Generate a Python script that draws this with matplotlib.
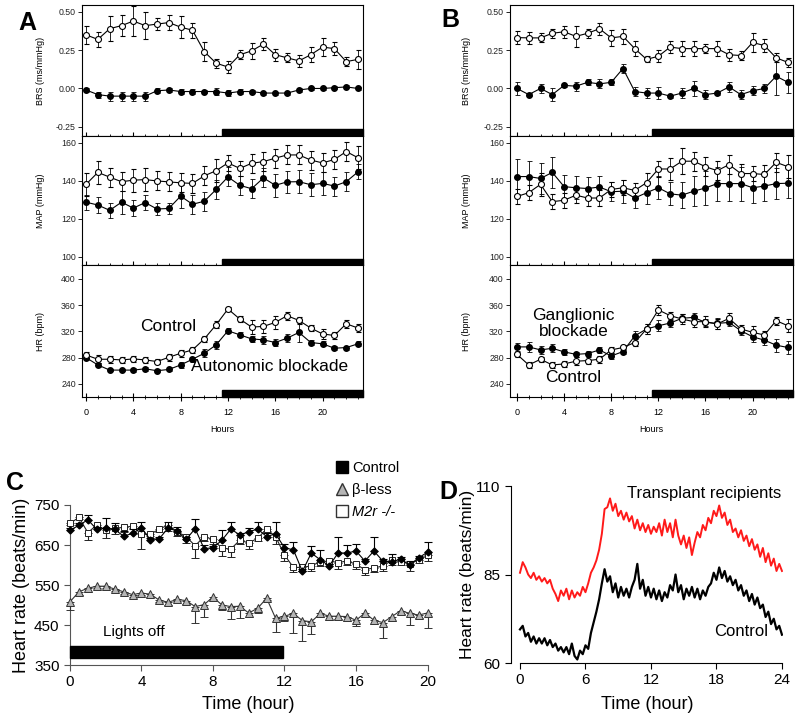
import numpy as np
import matplotlib.pyplot as plt
from matplotlib.patches import Rectangle
from matplotlib.lines import Line2D

plt.rcParams['font.family'] = ['Liberation Sans', 'DejaVu Sans']

hours = np.arange(24)

# ---------------- Panel A (autonomic blockade) ----------------
a_brs_ctl = [0.35, 0.32, 0.39, 0.41, 0.44, 0.41, 0.42, 0.43, 0.40, 0.38, 0.24, 0.165,
             0.14, 0.22, 0.245, 0.29, 0.22, 0.20, 0.18, 0.22, 0.27, 0.26, 0.175, 0.19]
a_brs_ctl_err = [0.06, 0.05, 0.08, 0.07, 0.10, 0.09, 0.04, 0.05, 0.07, 0.05, 0.06, 0.03,
                 0.04, 0.03, 0.05, 0.04, 0.04, 0.03, 0.04, 0.05, 0.06, 0.04, 0.03, 0.06]
a_brs_blk = [-0.01, -0.04, -0.05, -0.05, -0.05, -0.05, -0.015, -0.01, -0.02, -0.02, -0.02, -0.02,
             -0.03, -0.02, -0.02, -0.03, -0.03, -0.03, -0.01, 0.0, 0.0, 0.005, 0.01, 0.0]
a_brs_blk_err = [0.01, 0.02, 0.03, 0.03, 0.03, 0.03, 0.015, 0.01, 0.015, 0.015, 0.01, 0.02,
                 0.02, 0.015, 0.01, 0.01, 0.01, 0.01, 0.01, 0.01, 0.01, 0.01, 0.01, 0.01]

a_map_ctl = [138.2, 144.5, 142.0, 139.6, 140.4, 140.7, 140.0, 139.5, 139.0, 138.7, 142.7, 145.4,
             149.5, 146.6, 149.3, 150.2, 152.0, 153.7, 153.7, 151.0, 149.5, 151.3, 155.5, 152.2]
a_map_ctl_err = [6, 6, 5, 5, 6, 6, 5, 5, 5, 5, 5, 6, 4, 4, 5, 5, 5, 5, 5, 5, 5, 5, 5, 6]
a_map_blk = [128.8, 127.3, 124.5, 128.8, 125.7, 128.6, 125.2, 125.5, 132.0, 127.7, 129.3, 135.5,
             142.1, 137.7, 135.9, 141.6, 137.7, 139.5, 139.6, 138.0, 138.7, 137.3, 139.6, 144.8]
a_map_blk_err = [4, 4, 4, 6, 4, 4, 3, 3, 6, 5, 5, 5, 5, 5, 5, 5, 6, 6, 6, 6, 6, 5, 5, 4]

a_hr_ctl = [284, 277.5, 277.5, 276.5, 278, 276.5, 274, 280.5, 286.6, 291.7, 308.5, 330,
            354, 338.7, 326.5, 327.5, 333.6, 343.8, 336.6, 325, 316, 313.7, 331.5, 325]
a_hr_ctl_err = [4, 6, 5, 4, 4, 5, 4, 5, 5, 4, 5, 5, 3, 5, 10, 10, 10, 6, 5, 5, 8, 5, 6, 6]
a_hr_blk = [280, 268.8, 261, 261, 261, 263, 260, 262, 268.8, 277.5, 286.6, 299.4,
            320.8, 314.7, 308.5, 307, 303, 309.6, 318.3, 303, 301, 294.3, 295.3, 301]
a_hr_blk_err = [3, 3, 2, 2, 3, 3, 2, 3, 4, 4, 6, 6, 4, 4, 4, 6, 6, 6, 14, 4, 4, 3, 3, 4]

# ---------------- Panel B (ganglionic blockade) ----------------
b_brs_ctl = [0.332, 0.33, 0.33, 0.36, 0.37, 0.34, 0.36, 0.39, 0.33, 0.34, 0.26, 0.19,
             0.21, 0.27, 0.26, 0.26, 0.26, 0.26, 0.22, 0.215, 0.30, 0.28, 0.20, 0.17]
b_brs_ctl_err = [0.04, 0.04, 0.03, 0.03, 0.04, 0.07, 0.03, 0.04, 0.05, 0.05, 0.05, 0.02,
                 0.04, 0.04, 0.05, 0.05, 0.03, 0.05, 0.04, 0.03, 0.06, 0.04, 0.03, 0.03]
b_brs_blk = [0.0, -0.04, 0.0, -0.04, 0.02, 0.015, 0.04, 0.03, 0.04, 0.13, -0.02, -0.03,
             -0.03, -0.05, -0.03, 0.0, -0.04, -0.03, 0.01, -0.04, -0.015, 0.0, 0.08, 0.04]
b_brs_blk_err = [0.04, 0.01, 0.03, 0.04, 0.01, 0.03, 0.02, 0.03, 0.02, 0.03, 0.03, 0.03,
                 0.04, 0.01, 0.03, 0.05, 0.03, 0.01, 0.03, 0.03, 0.03, 0.03, 0.12, 0.07]

b_map_ctl = [131.8, 133.8, 138.2, 129.1, 129.8, 132.5, 131.0, 131.0, 135.5, 136.4, 135.0, 139.1,
             146.3, 146.3, 150.4, 150.4, 147.5, 145.4, 148.6, 143.9, 143.9, 143.4, 149.8, 147.5]
b_map_ctl_err = [4, 4, 6, 4, 4, 4, 4, 4, 4, 4, 4, 5, 4, 6, 7, 5, 5, 5, 5, 5, 4, 5, 5, 6]
b_map_blk = [142.3, 142.3, 141.3, 144.5, 137.0, 136.4, 136.0, 136.8, 134.3, 134.6, 131.0, 133.8,
             136.4, 133.2, 132.5, 134.6, 136.3, 138.6, 138.6, 138.6, 136.4, 137.3, 138.6, 138.8]
b_map_blk_err = [9, 8, 8, 8, 6, 6, 6, 6, 5, 6, 5, 6, 6, 6, 7, 8, 9, 9, 9, 9, 8, 8, 8, 8]

b_hr_ctl = [285, 268.8, 277.5, 268.8, 270.4, 274.5, 275.5, 277.5, 291.7, 295.4, 303, 323.6,
            352.6, 343.9, 338.8, 334.7, 334.7, 331.1, 339.8, 323.6, 318.5, 314.4, 336.2, 328.5]
b_hr_ctl_err = [4, 5, 4, 4, 4, 6, 5, 5, 4, 4, 6, 8, 8, 6, 8, 8, 8, 8, 8, 6, 10, 6, 6, 10]
b_hr_blk = [296.3, 296.3, 291.7, 294.2, 288.7, 285, 286.1, 291.7, 282.5, 289.2, 313.1, 323.6,
            328.5, 332.6, 339.8, 341.3, 333.5, 332.1, 333.5, 321, 311.7, 306.6, 298.9, 295.4]
b_hr_blk_err = [6, 8, 6, 6, 4, 4, 4, 4, 4, 4, 8, 8, 8, 6, 6, 6, 6, 8, 6, 6, 8, 8, 10, 10]

# ---------------- Panel C (every 0.5 h) ----------------
c_time = np.arange(0, 20.5, 0.5)
c_control = [687, 699, 713, 689, 692, 689, 672, 679, 693, 663, 666, 693, 684, 664, 691, 641,
             643, 662, 690, 675, 683, 690, 671, 678, 643, 638, 584, 630, 613, 598, 630, 630,
             635, 610, 635, 610, 608, 615, 600, 618, 632]
c_control_up = [5, 5, 12, 5, 25, 15, 12, 10, 15, 5, 5, 15, 10, 5, 25, 8, 5, 25, 18, 5, 10,
                18, 8, 30, 10, 20, 5, 18, 25, 5, 40, 20, 18, 5, 35, 5, 20, 5, 10, 5, 25]
c_beta = [508, 533, 542, 547, 547, 540, 533, 526, 530, 527, 512, 507, 514, 511, 496, 501,
          520, 500, 496, 497, 480, 492, 517, 467, 472, 479, 461, 458, 479, 472, 472, 471,
          462, 480, 462, 456, 471, 486, 479, 475, 480]
c_beta_dn = [20, 8, 10, 5, 5, 5, 5, 5, 5, 8, 5, 8, 5, 8, 40, 30, 5, 12, 30, 30, 10,
             12, 5, 35, 12, 50, 50, 30, 8, 10, 8, 10, 15, 10, 10, 38, 12, 8, 30, 8, 38]
c_m2r = [704, 719, 681, 700, 687, 692, 694, 697, 677, 677, 690, 700, 683, 671, 648, 671,
         664, 642, 640, 662, 655, 667, 690, 671, 625, 594, 594, 598, 608, 610, 606, 610,
         602, 588, 593, 597, 612, 608, 603, 612, 624]
c_m2r_dn = [5, 5, 18, 5, 20, 15, 12, 5, 38, 5, 8, 15, 10, 15, 30, 10, 12, 20, 20, 10, 15,
            8, 5, 18, 15, 12, 8, 12, 10, 8, 15, 10, 12, 12, 10, 12, 12, 8, 18, 8, 15]

# ---------------- Panel D (every 0.25 h) ----------------
d_time = np.arange(0, 24.25, 0.25)
d_transplant = [85.5, 88.5, 87.0, 85.0, 84.0, 85.5, 83.5, 84.5, 83.0, 84.0, 82.5, 83.5,
                81.0, 79.5, 77.5, 80.5, 79.0, 81.0, 78.0, 80.5, 78.5, 80.0, 79.0, 81.5,
                80.0, 82.5, 85.5, 87.0, 89.0, 92.0, 96.5, 103.5, 104.0, 106.5, 103.0, 105.0,
                101.5, 103.0, 100.5, 102.5, 100.0, 101.5, 98.0, 100.5, 97.5, 99.5, 97.0, 99.0,
                96.5, 98.5, 97.0, 99.5, 96.0, 100.5, 97.0, 99.5, 95.5, 100.5, 96.0, 93.5,
                96.0, 92.5, 95.5, 90.5, 94.0, 97.0, 95.5, 99.0, 97.5, 101.0, 99.5, 103.0,
                101.5, 104.5, 101.0, 102.5, 99.0, 100.5, 97.0, 98.0, 95.5, 97.5, 94.5, 96.0,
                93.0, 95.0, 92.0, 93.5, 90.0, 92.5, 88.5, 91.0, 87.5, 89.5, 86.0, 88.0, 86.0]
d_control = [69.5, 70.5, 67.5, 68.5, 66.0, 67.5, 65.5, 67.0, 65.5, 67.0, 65.0, 66.5,
             64.5, 65.5, 63.5, 64.5, 63.0, 64.5, 62.5, 65.5, 62.0, 61.0, 63.5, 62.5,
             65.0, 64.0, 68.5, 71.5, 74.5, 78.0, 82.5, 86.5, 83.0, 84.5, 80.0, 82.5,
             78.5, 81.5, 79.0, 81.0, 78.5, 81.5, 83.5, 88.0, 81.0, 83.5, 79.0, 81.5,
             78.5, 81.0, 78.0, 80.5, 77.5, 80.0, 78.5, 82.0, 80.5, 85.0, 80.0, 82.0,
             78.0, 81.0, 79.0, 81.5, 78.5, 81.0, 78.0, 80.5, 79.0, 81.5, 82.5, 85.5,
             83.5, 87.0, 84.0, 86.0, 83.0, 84.5, 82.0, 83.5, 80.5, 82.0, 79.0, 80.5,
             77.5, 79.5, 76.5, 78.5, 75.5, 76.5, 73.0, 74.5, 71.0, 72.5, 69.5, 70.5, 68.0]


fig = plt.figure(figsize=(7.97, 7.16), dpi=100)

rows = [(0.8101, 0.1830), (0.6299, 0.1802), (0.4455, 0.1844)]
row_specs = [
    ('BRS (ms/mmHg)', (-0.31, 0.545), [-0.25, 0.0, 0.25, 0.50], '{:.2f}'),
    ('MAP (mmHg)', (95.7, 163.7), [100, 120, 140, 160], '{:.0f}'),
    ('HR (bpm)', (220, 421), [240, 280, 320, 360, 400], '{:.0f}'),
]


def stack(left, width, xlim, series, lab_x):
    axes = []
    for i, ((bot, h), (ylab, ylim, yt, fmt)) in enumerate(zip(rows, row_specs)):
        ax = fig.add_axes([left, bot, width, h])
        ctl, ctl_err, blk, blk_err = series[i]
        ax.errorbar(hours, blk, yerr=blk_err, fmt='-o', color='k', mfc='k', mec='k',
                    ms=4, lw=0.8, elinewidth=0.6, capsize=1.8, capthick=0.6, zorder=3)
        ax.errorbar(hours, ctl, yerr=ctl_err, fmt='-o', color='k', mfc='white', mec='k',
                    ms=4.3, mew=0.8, lw=0.8, elinewidth=0.6, capsize=1.8, capthick=0.6, zorder=4)
        ax.set_xlim(*xlim)
        ax.set_ylim(*ylim)
        ax.set_yticks(yt)
        ax.set_yticklabels([fmt.format(v) for v in yt])
        ax.set_xticks(range(0, 24, 4))
        ax.set_xticks(range(0, 24), minor=True)
        ax.tick_params(axis='y', direction='out', length=3, width=0.7, pad=1.5,
                       labelsize=6.3, colors='#222222')
        ax.tick_params(axis='x', which='major', direction='inout', length=6, width=0.8,
                       labelsize=6.5, pad=5)
        ax.tick_params(axis='x', which='minor', direction='inout', length=3.5, width=0.6)
        if i < 2:
            ax.tick_params(axis='x', labelbottom=False)
        for s in ax.spines.values():
            s.set_linewidth(0.8)
        ax.set_ylabel(ylab, fontsize=6.5)
        ax.yaxis.set_label_coords(lab_x, 0.5)
        ax.add_patch(Rectangle((11.5, 0), xlim[1] - 11.5, 0.05,
                               transform=ax.get_xaxis_transform(), color='k',
                               clip_on=False, zorder=5))
        axes.append(ax)
    axes[-1].set_xlabel('Hours', fontsize=6.5, labelpad=6)
    return axes


ax_a = stack(0.1029, 0.3526, (-0.34, 23.42),
             [(a_brs_ctl, a_brs_ctl_err, a_brs_blk, a_brs_blk_err),
              (a_map_ctl, a_map_ctl_err, a_map_blk, a_map_blk_err),
              (a_hr_ctl, a_hr_ctl_err, a_hr_blk, a_hr_blk_err)], -0.132)
ax_b = stack(0.6399, 0.3551, (-0.59, 23.43),
             [(b_brs_ctl, b_brs_ctl_err, b_brs_blk, b_brs_blk_err),
              (b_map_ctl, b_map_ctl_err, b_map_blk, b_map_blk_err),
              (b_hr_ctl, b_hr_ctl_err, b_hr_blk, b_hr_blk_err)], -0.138)

ax_a[2].text(4.6, 327, 'Control', fontsize=12.5, va='center')
ax_a[2].text(8.9, 266, 'Autonomic blockade', fontsize=12.5, va='center')
ax_b[2].text(4.8, 344, 'Ganglionic', fontsize=12.5, ha='center', va='center')
ax_b[2].text(4.8, 319, 'blockade', fontsize=12.5, ha='center', va='center')
ax_b[2].text(4.8, 250, 'Control', fontsize=12.5, ha='center', va='center')

fig.text(0.034, 0.968, 'A', fontsize=18, fontweight='bold', ha='center', va='center')
fig.text(0.565, 0.972, 'B', fontsize=18, fontweight='bold', ha='center', va='center')
fig.text(0.019, 0.325, 'C', fontsize=18, fontweight='bold', ha='center', va='center')
fig.text(0.562, 0.313, 'D', fontsize=18, fontweight='bold', ha='center', va='center')

# ---------------- Panel C ----------------
axc = fig.add_axes([0.0878, 0.0712, 0.4486, 0.2235])
zeros = [0] * len(c_time)
axc.errorbar(c_time, c_beta, yerr=[c_beta_dn, zeros], fmt='-^', color='#333333',
             mfc='#b5b5b5', mec='#333333', ms=5.5, mew=0.7, lw=0.8, elinewidth=0.8,
             capsize=3, capthick=0.8, clip_on=False, zorder=3)
axc.errorbar(c_time, c_m2r, yerr=[c_m2r_dn, zeros], fmt='-s', color='#222222',
             mfc='white', mec='#222222', ms=5, mew=0.7, lw=0.8, elinewidth=0.8,
             capsize=3, capthick=0.8, clip_on=False, zorder=4)
axc.errorbar(c_time, c_control, yerr=[zeros, c_control_up], fmt='-D', color='k',
             mfc='k', mec='k', ms=3.5, lw=0.8, elinewidth=0.8,
             capsize=3, capthick=0.8, clip_on=False, zorder=5)
axc.add_patch(Rectangle((0, 367), 11.9, 30, color='k', zorder=6, clip_on=False))
axc.text(3.6, 432, 'Lights off', fontsize=11, ha='center', va='center')
axc.set_xlim(0, 20)
axc.set_ylim(350, 750)
axc.set_xticks(range(0, 21, 4))
axc.set_yticks(range(350, 751, 100))
axc.spines['top'].set_visible(False)
axc.spines['right'].set_visible(False)
axc.spines['left'].set_color('#555555')
axc.spines['bottom'].set_color('#555555')
axc.tick_params(direction='out', length=4, labelsize=11, colors='#555555', labelcolor='k')
axc.set_ylabel('Heart rate (beats/min)', fontsize=13, labelpad=3)
axc.set_xlabel('Time (hour)', fontsize=13, labelpad=5)

handles = [Line2D([], [], ls='none', marker='s', ms=8, mfc='k', mec='k'),
           Line2D([], [], ls='none', marker='^', ms=8, mfc='#b5b5b5', mec='#333333'),
           Line2D([], [], ls='none', marker='s', ms=8, mfc='white', mec='#333333')]
leg = fig.legend(handles, ['Control', '\u03b2-less', 'M2r -/-'], loc='upper left',
                 bbox_to_anchor=(0.413, 0.366), frameon=False, fontsize=10.5,
                 handlelength=0.8, handletextpad=0.3, labelspacing=0.55, borderpad=0)
leg.get_texts()[2].set_style('italic')

# ---------------- Panel D ----------------
axd = fig.add_axes([0.6412, 0.074, 0.3413, 0.2472])
axd.plot(d_time, d_transplant, color='#ff1a1a', lw=1.4)
axd.plot(d_time, d_control, color='k', lw=1.6)
axd.set_xlim(-0.82, 24.1)
axd.set_ylim(60, 110)
axd.set_xticks(range(0, 25, 6))
axd.set_yticks([60, 85, 110])
axd.spines['top'].set_visible(False)
axd.spines['right'].set_visible(False)
axd.spines['bottom'].set_bounds(0, 24)
axd.tick_params(direction='out', length=4, labelsize=11)
axd.text(23.9, 108, 'Transplant recipients', fontsize=12, ha='right', va='center')
axd.text(20.3, 69, 'Control', fontsize=12, ha='center', va='center')
axd.set_ylabel('Heart rate (beats/min)', fontsize=12.5, labelpad=1)
axd.set_xlabel('Time (hour)', fontsize=13, labelpad=6)

fig.savefig('out.png', dpi=100)
